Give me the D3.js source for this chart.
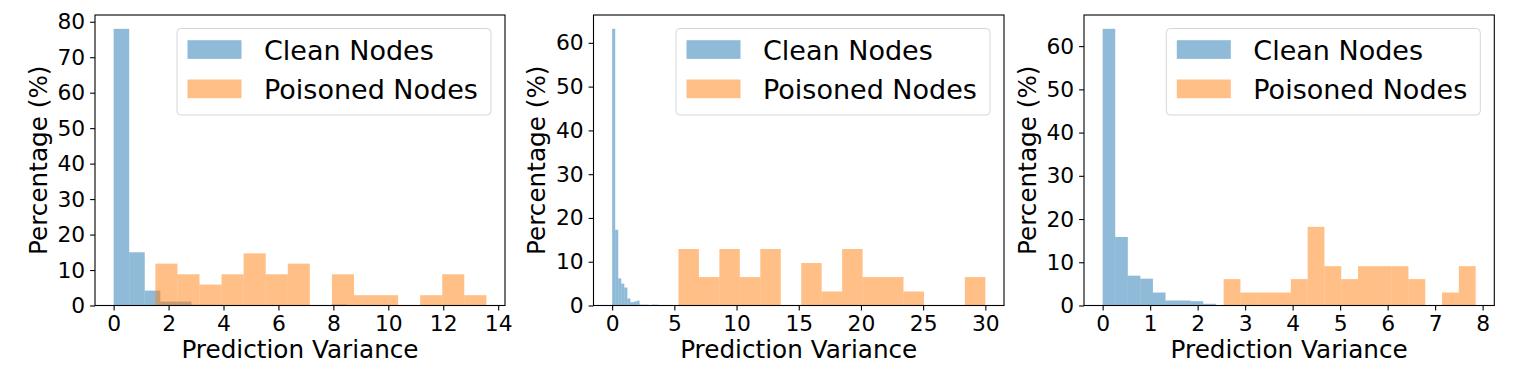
<!DOCTYPE html>
<html><head><meta charset="utf-8">
<script src="https://cdn.jsdelivr.net/npm/d3@7"></script>
<style>
body{margin:0;background:#fff}
svg{display:block;font-family:"DejaVu Sans",sans-serif}
</style>
</head><body>
<svg id="chart" width="1522" height="377"></svg>
<script>
// ---------- data ----------
const seriesNames = ["Clean Nodes", "Poisoned Nodes"];
const xLabel = "Prediction Variance";
const yLabel = "Percentage (%)";

// Panel 1 (15 bins each)
const cleanRange1 = [0, 8.5];
const cleanPct1 = [78.0, 15.0, 4.2, 1.1, 1.1, 0.2, 0.2, 0, 0, 0, 0, 0, 0, 0, 0.3];
const poisonRange1 = [1.52, 13.57];
const poisonPct1 = [11.8, 8.8, 5.9, 8.8, 14.7, 8.8, 11.8, 0, 8.8, 2.9, 2.9, 0, 2.9, 8.8, 2.9];
const xTicks1 = [0, 2, 4, 6, 8, 10, 12, 14];
const yTicks1 = [0, 10, 20, 30, 40, 50, 60, 70, 80];

// Panel 2
const cleanRange2 = [0, 3.67];
const cleanPct2 = [63.2, 17.3, 6.2, 5.0, 4.1, 1.6, 0.75, 0.9, 1.1, 0.2, 0.2, 0.2, 0, 0.2, 0.2];
const poisonRange2 = [5.33, 30.0];
const poisonPct2 = [12.9, 6.5, 12.9, 6.5, 12.9, 0, 9.7, 3.2, 12.9, 6.5, 6.5, 3.2, 0, 0, 6.5];
const xTicks2 = [0, 5, 10, 15, 20, 25, 30];
const yTicks2 = [0, 10, 20, 30, 40, 50, 60];

// Panel 3
const cleanRange3 = [0, 3.97];
const cleanPct3 = [64.0, 15.85, 6.9, 6.2, 3.0, 1.15, 1.15, 1.0, 0.4, 0, 0, 0, 0, 0.12, 0.12];
const poisonRange3 = [2.547, 7.853];
const poisonPct3 = [6.1, 3.0, 3.0, 3.0, 6.1, 18.2, 9.1, 6.1, 9.1, 9.1, 9.1, 6.1, 0, 3.0, 9.1];
const xTicks3 = [0, 1, 2, 3, 4, 5, 6, 7, 8];
const yTicks3 = [0, 10, 20, 30, 40, 50, 60];

const colors = ["#1f77b4", "#ff7f0e"];

// ---------- layout ----------
const panels = [
  {left: 95,    right: 505,    cleanRange: cleanRange1, cleanPct: cleanPct1, poisonRange: poisonRange1, poisonPct: poisonPct1, xTicks: xTicks1, yTicks: yTicks1},
  {left: 593.5, right: 1004,   cleanRange: cleanRange2, cleanPct: cleanPct2, poisonRange: poisonRange2, poisonPct: poisonPct2, xTicks: xTicks2, yTicks: yTicks2},
  {left: 1084,  right: 1494.3, cleanRange: cleanRange3, cleanPct: cleanPct3, poisonRange: poisonRange3, poisonPct: poisonPct3, xTicks: xTicks3, yTicks: yTicks3}
];
const plotTop = 15, plotBottom = 305.5;
const tickFont = 21.8, labelFont = 24.7, legendFont = 27;

const svg = d3.select("#chart");

function binsOf(range, pct) {
  const n = pct.length, w = (range[1] - range[0]) / n;
  return pct.map((v, i) => ({x0: range[0] + i * w, x1: range[0] + (i + 1) * w, v}));
}

panels.forEach(p => {
  const cb = binsOf(p.cleanRange, p.cleanPct);
  const pb = binsOf(p.poisonRange, p.poisonPct);
  const xmin = Math.min(p.cleanRange[0], p.poisonRange[0]);
  const xmax = Math.max(p.cleanRange[1], p.poisonRange[1]);
  const span = xmax - xmin;
  const ymax = d3.max(p.cleanPct.concat(p.poisonPct)) * 1.05;

  const x = d3.scaleLinear().domain([xmin - 0.05 * span, xmax + 0.05 * span]).range([p.left, p.right]);
  const y = d3.scaleLinear().domain([0, ymax]).range([plotBottom, plotTop]);

  const g = svg.append("g");

  [cb, pb].forEach((bins, si) => {
    g.append("g").selectAll("rect")
      .data(bins.filter(d => d.v > 0))
      .join("rect")
      .attr("x", d => x(d.x0))
      .attr("width", d => x(d.x1) - x(d.x0))
      .attr("y", d => y(d.v))
      .attr("height", d => y(0) - y(d.v))
      .attr("fill", colors[si])
      .attr("fill-opacity", 0.5);
  });

  // axes
  const xa = g.append("g").attr("transform", `translate(0,${plotBottom})`)
    .call(d3.axisBottom(x).tickValues(p.xTicks).tickSize(4.9).tickPadding(4.9).tickFormat(d3.format("d")));
  const ya = g.append("g").attr("transform", `translate(${p.left},0)`)
    .call(d3.axisLeft(y).tickValues(p.yTicks).tickSize(4.9).tickPadding(4.9).tickFormat(d3.format("d")));
  [xa, ya].forEach(a => {
    a.select(".domain").remove();
    a.selectAll("line").attr("stroke", "#000").attr("stroke-width", 1.1);
    a.selectAll("text").attr("font-size", tickFont).attr("font-family", "DejaVu Sans").attr("fill", "#000");
  });

  // spines
  g.append("rect")
    .attr("x", p.left).attr("y", plotTop)
    .attr("width", p.right - p.left).attr("height", plotBottom - plotTop)
    .attr("fill", "none").attr("stroke", "#000").attr("stroke-width", 1.1);

  // axis labels
  g.append("text")
    .attr("x", (p.left + p.right) / 2).attr("y", plotBottom + 52.2)
    .attr("text-anchor", "middle").attr("font-size", labelFont).text(xLabel);
  g.append("text")
    .attr("transform", `translate(${p.left - 48.5},${(plotTop + plotBottom) / 2}) rotate(-90)`)
    .attr("text-anchor", "middle").attr("font-size", labelFont).text(yLabel);

  // legend
  const lw = 314, lh = 86.5;
  const lx = p.right - 14 - lw, ly = plotTop + 13.5;
  const lg = g.append("g");
  lg.append("rect").attr("x", lx).attr("y", ly).attr("width", lw).attr("height", lh)
    .attr("rx", 4).attr("fill", "#fff").attr("fill-opacity", 0.8)
    .attr("stroke", "#d6d6d6").attr("stroke-width", 1);
  seriesNames.forEach((name, i) => {
    lg.append("rect").attr("x", lx + 10.5).attr("y", ly + 11.7 + i * 39.3)
      .attr("width", 54).attr("height", 18.7)
      .attr("fill", colors[i]).attr("fill-opacity", 0.5);
    lg.append("text").attr("x", lx + 87).attr("y", ly + 31.7 + i * 38.5)
      .attr("font-size", legendFont).text(name);
  });
});
</script>
</body></html>
